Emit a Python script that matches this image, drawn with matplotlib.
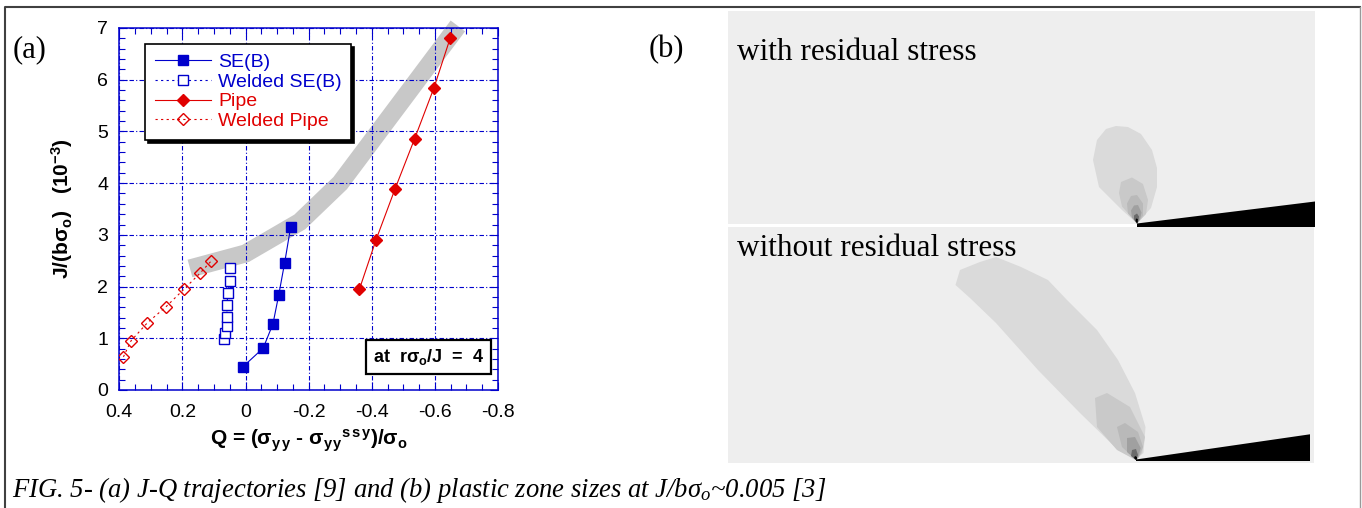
"""Fig. 5: (a) J-Q trajectories and (b) plastic zone sizes."""

import matplotlib
matplotlib.use("Agg")
import matplotlib.pyplot as plt
from matplotlib.lines import Line2D
from matplotlib.patches import Polygon
from matplotlib.ticker import MultipleLocator

plt.rcParams["font.family"] = ["Liberation Sans", "DejaVu Sans"]
plt.rcParams["mathtext.fontset"] = "custom"
plt.rcParams["mathtext.rm"] = "Liberation Sans"
plt.rcParams["mathtext.bf"] = "Liberation Sans:bold"
plt.rcParams["mathtext.it"] = "Liberation Serif:italic"

# ---------------------------------------------------------------------------
# Data (a): J-Q trajectories, J in units of 1e-3 b*sigma_o
# ---------------------------------------------------------------------------

SEB_Q  = [0.008, -0.056, -0.087, -0.105, -0.124, -0.143]
SEB_J  = [0.45, 0.81, 1.28, 1.83, 2.46, 3.15]

WSEB_Q = [0.069, 0.064, 0.059, 0.059, 0.059, 0.056, 0.050, 0.050]
WSEB_J = [0.99, 1.10, 1.24, 1.42, 1.64, 1.87, 2.11, 2.35]

PIPE_Q = [-0.361, -0.414, -0.474, -0.536, -0.597, -0.649]
PIPE_J = [1.95, 2.91, 3.89, 4.86, 5.84, 6.81]

WPIPE_Q = [0.387, 0.363, 0.311, 0.252, 0.195, 0.144, 0.108]
WPIPE_J = [0.64, 0.95, 1.30, 1.61, 1.95, 2.26, 2.50]

# shaded scatter band
BAND_Q = [0.176, 0.0, -0.172, -0.300, -0.673]
BAND_J = [2.35, 2.64, 3.25, 4.00, 7.04]

X_TICKS = [0.4, 0.2, 0.0, -0.2, -0.4, -0.6, -0.8]
X_TICK_LABELS = ["0.4", "0.2", "0", "-0.2", "-0.4", "-0.6", "-0.8"]

# ---------------------------------------------------------------------------
# Data (b): plastic zone contours, offsets from the crack tip (px-like units)
# ---------------------------------------------------------------------------

ZONE_SHADES = ["#dadada", "#c9c9c9", "#b9b9b9", "#a0a0a0", "#6a6a6a", "#000000"]

TOP_ZONES = [
    [(0, 0), (-15, 13.5), (-38, 36.5), (-44, 63.5), (-40, 83.5), (-31, 94.5),
     (-21, 97.5), (-9, 96.5), (4, 89.5), (15, 73.5), (20, 55.5), (20, 36.5),
     (14, 15.5)],
    [(0, 0), (-15, 17), (-18, 30.5), (-16, 41.5), (-5, 46), (6, 39.5),
     (11, 23.5), (9, 9.5)],
    [(0, 0), (-9, 10), (-10, 20), (-6, 27.5), (0, 28.5), (6, 20), (6, 8)],
    [(0, 0), (-5, 6), (-6, 13), (-3, 18), (1, 18.5), (4.5, 11), (3, 4)],
    [(0, 0), (-3, 4), (-3, 8), (0, 10), (2, 7), (1.5, 3)],
    [(0, 0), (-1.5, 2.5), (-1, 5), (0.8, 4.5), (0.8, 1.5)],
]
TOP_WEDGE = [(0, 0), (178, 22), (178, -3.5), (0, -3.5)]

BOTTOM_ZONES = [
    [(-1, 0), (-18, 10), (-56, 47), (-98, 90), (-140, 137), (-166, 162),
     (-180.5, 175), (-176, 190), (-156, 198), (-140, 203), (-115, 193),
     (-88, 180), (-69, 160), (-39, 130), (-18, 100), (-1, 67), (9.5, 33),
     (7.5, 7)],
    [(0, 0), (-19, 10), (-39, 33), (-41, 62), (-29, 67), (-6, 53), (9, 23),
     (6, 7)],
    [(0, 0), (-14, 13), (-19, 33), (-11, 37), (2, 28), (7, 13), (3, 3)],
    [(0, 0), (-9, 8), (-9, 22), (-1, 23), (4.7, 12), (2, 2)],
    [(0, 0), (-5, 4), (-4, 10), (0, 11), (2, 5)],
    [(0, 0), (-2, 2), (-1, 4), (1, 3), (1, 1)],
]
BOTTOM_WEDGE = [(0, 0.5), (174, 25.7), (174, -1), (0, -1)]

BLUE = "#0000cc"
RED = "#e00000"
BAND_GRAY = "#c8c8c8"
PANEL_BG = "#eeeeee"


def style_jq_axes(ax):
    ax.set_xlim(0.4, -0.8)
    ax.set_ylim(0, 7)
    ax.set_xticks(X_TICKS)
    ax.set_xticklabels(X_TICK_LABELS)
    ax.xaxis.set_minor_locator(MultipleLocator(0.05))
    ax.yaxis.set_major_locator(MultipleLocator(1))
    ax.yaxis.set_minor_locator(MultipleLocator(0.2))
    ax.tick_params(which="both", direction="in", top=True, right=True,
                   color=BLUE, width=0.8, labelsize=14)
    ax.tick_params(axis="x", pad=10)
    ax.tick_params(axis="y", pad=8)
    ax.tick_params(which="major", length=6)
    ax.tick_params(which="minor", length=4)
    for s in ax.spines.values():
        s.set_color(BLUE)
        s.set_linewidth(1.1)
    ax.grid(which="major", color=BLUE, linestyle=(0, (4, 2, 1, 2)), linewidth=0.8)


def draw_zone_panel(ax, zones, wedge, xlim, ylim):
    ax.set_facecolor(PANEL_BG)
    for verts, shade in zip(zones, ZONE_SHADES):
        ax.add_patch(Polygon(verts, closed=True, fc=shade, ec="none"))
    ax.add_patch(Polygon(wedge, closed=True, fc="black", ec="none", clip_on=False))
    ax.set_xlim(*xlim)
    ax.set_ylim(*ylim)
    ax.set_xticks([])
    ax.set_yticks([])
    for s in ax.spines.values():
        s.set_visible(False)


def main():
    fig = plt.figure(figsize=(13.62, 5.08), dpi=100)

    # outer frame
    fr = fig.transFigure
    fig.add_artist(Line2D([5 / 1362, 5 / 1362, 1360 / 1362],
                          [0, 1 - 7 / 508, 1 - 7 / 508],
                          transform=fr, color="#404040", lw=1.5))
    fig.add_artist(Line2D([1360 / 1362, 1360 / 1362], [0, 1 - 7 / 508],
                          transform=fr, color="#999999", lw=1.0))

    # --- (a) J-Q trajectories ------------------------------------------------
    ax = fig.add_axes([0.0876, 0.2323, 0.2780, 0.7126])
    style_jq_axes(ax)

    ax.plot(BAND_Q, BAND_J, color=BAND_GRAY, lw=13, solid_capstyle="butt",
            solid_joinstyle="miter", zorder=1, clip_on=False)

    ax.plot(SEB_Q, SEB_J, color=BLUE, lw=0.8, marker="s", ms=6.5,
            mfc=BLUE, mec=BLUE, label="SE(B)", zorder=3)
    ax.plot(WSEB_Q, WSEB_J, color=BLUE, lw=0.8, ls=(0, (2, 3)), marker="s",
            ms=6.5, mfc="white", mec=BLUE, mew=1.0, label="Welded SE(B)", zorder=3)
    ax.plot(PIPE_Q, PIPE_J, color=RED, lw=0.8, marker="D", ms=6,
            mfc=RED, mec=RED, label="Pipe", zorder=3)
    ax.plot(WPIPE_Q, WPIPE_J, color=RED, lw=0.8, ls=(0, (2, 3)), marker="D",
            ms=6.2, mfc="none", mec=RED, mew=1.0, label="Welded Pipe", zorder=3)

    leg = ax.legend(loc="upper left", bbox_to_anchor=(0.068, 0.956),
                    borderaxespad=0, fancybox=False, edgecolor="black",
                    framealpha=1,
                    shadow={"ox": 2.2, "oy": -2.2, "color": "black", "alpha": 1},
                    handlelength=2.9, handletextpad=0.35, labelspacing=0.1,
                    borderpad=0.5, prop={"size": 14})
    leg.get_frame().set_linewidth(1.2)
    for txt, c in zip(leg.get_texts(), [BLUE, BLUE, RED, RED]):
        txt.set_color(c)

    ax.text(0.817, 0.091, r"at  r$\mathbf{\sigma_o}$/J  =  4",
            transform=ax.transAxes, ha="center", va="center",
            fontweight="bold", fontsize=13, zorder=5,
            bbox=dict(boxstyle="square,pad=0.4", fc="white", ec="black", lw=1.6))

    ax.set_xlabel(r"Q = ($\mathbf{\sigma_{y\,y}}$ - $\mathbf{\sigma_{y\,y}{}^{s\,s\,y}}$)/$\mathbf{\sigma_o}$",
                  fontweight="bold", fontsize=15, labelpad=5)
    ax.set_ylabel(r"J/(b$\mathbf{\sigma_o}$)   (10$\mathbf{^{-3}}$)",
                  fontweight="bold", fontsize=15, labelpad=16)

    # --- (b) plastic zones ---------------------------------------------------
    ax_top = fig.add_axes([727.5 / 1362, (508 - 224) / 508, 587 / 1362, 213 / 508])
    draw_zone_panel(ax_top, TOP_ZONES, TOP_WEDGE, (-409.5, 177.5), (-0.5, 212.5))
    ax_top.text(0.016, 0.77, "with residual stress", transform=ax_top.transAxes,
                family="Liberation Serif", fontsize=22.5, va="baseline")

    ax_bot = fig.add_axes([727.5 / 1362, (508 - 462.7) / 508, 586.5 / 1362, 236.2 / 508])
    draw_zone_panel(ax_bot, BOTTOM_ZONES, BOTTOM_WEDGE, (-408.5, 178), (-2.7, 233.5))
    ax_bot.text(0.016, 0.873, "without residual stress", transform=ax_bot.transAxes,
                family="Liberation Serif", fontsize=22.5, va="baseline")

    # panel labels and caption
    fig.text(13 / 1362, 1 - 57.5 / 508, "(a)", family="Liberation Serif",
             fontsize=22, va="baseline")
    fig.text(649 / 1362, 1 - 57.5 / 508, "(b)", family="Liberation Serif",
             fontsize=22, va="baseline")
    fig.text(12 / 1362, 1 - 497 / 508,
             r"FIG. 5- (a) J-Q trajectories [9] and (b) plastic zone sizes at J/b$\sigma_o$~0.005 [3]",
             family="Liberation Serif", style="italic", fontsize=19.2, va="baseline")

    fig.savefig("out.png", dpi=100)
    plt.close(fig)


if __name__ == "__main__":
    main()
